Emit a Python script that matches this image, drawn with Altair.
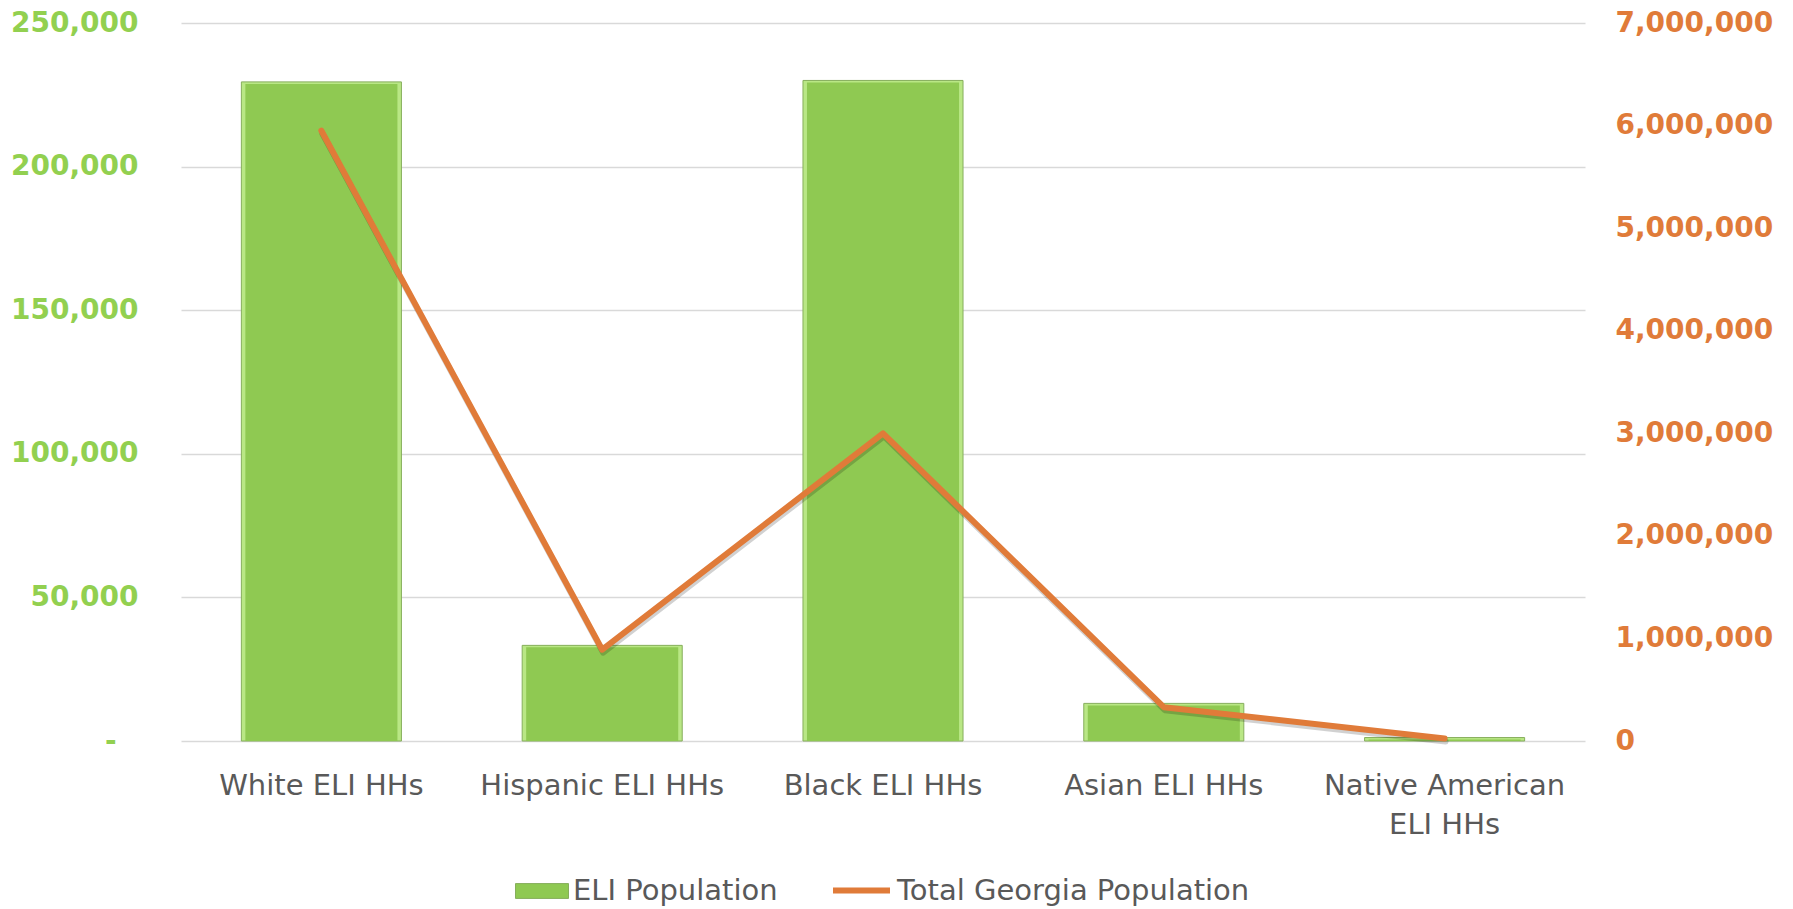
import altair as alt
import pandas as pd

# ELI households by race/ethnicity against total Georgia population
categories = ["White ELI HHs", "Hispanic ELI HHs", "Black ELI HHs",
              "Asian ELI HHs", "Native American ELI HHs"]
eli_population = [229500, 33300, 230000, 13100, 1200]
georgia_population = [5950000, 890000, 3000000, 330000, 25000]

left_ticks = [0, 50000, 100000, 150000, 200000, 250000]
right_ticks = [0, 1000000, 2000000, 3000000, 4000000, 5000000, 6000000, 7000000]

df = pd.DataFrame({
    "category": categories,
    "eli": eli_population,
    "pop": georgia_population,
    "bar_series": "ELI Population",
    "line_series": "Total Georgia Population",
})

GREEN = "#8FC952"
GREEN_EDGE = "#B9E785"
GREEN_TXT = "#92D050"
ORANGE = "#E07B39"
GRAY_TXT = "#595959"
FONT = "DejaVu Sans"
# accounting-style dash for zero, padded with a blank glyph that is not trimmed
ZERO_LABEL = "-\u2800"

x_enc = alt.X(
    "category:N",
    sort=categories,
    scale=alt.Scale(paddingInner=0.43, paddingOuter=0.215),
    axis=alt.Axis(
        title=None, labelAngle=0, domain=False, ticks=False, labelLimit=0,
        labelPadding=30, labelFontSize=29, labelFont=FONT, labelColor=GRAY_TXT,
        labelLineHeight=39, labelBaseline="top",
        labelExpr="datum.label == 'Native American ELI HHs' ? ['Native American', 'ELI HHs'] : datum.label",
    ),
)

y_left = alt.Scale(domain=[0, 250000], nice=False)
left_axis = alt.Axis(
    title=None, orient="left", values=left_ticks, domain=False, ticks=False,
    labelPadding=43, labelFontSize=28, labelFontWeight="bold", labelFont=FONT,
    labelColor=GREEN_TXT, gridColor="#D9D9D9", gridWidth=1.5,
    labelExpr="datum.value == 0 ? '" + ZERO_LABEL + "' : format(datum.value, ',')",
)

# light bevel rim drawn under the main bar body
bar_rim = alt.Chart(df).mark_bar(
    fill=GREEN_EDGE, stroke="#86AE5C", strokeWidth=1,
).encode(
    x=x_enc,
    y=alt.Y("eli:Q", scale=y_left, axis=left_axis),
)

bar_body = alt.Chart(df).mark_bar(
    width=alt.RelativeBandSize(0.95), yOffset=2,
).encode(
    x=x_enc,
    y=alt.Y("eli:Q", scale=y_left, axis=left_axis),
    y2=alt.datum(0),
    fill=alt.Fill(
        "bar_series:N",
        scale=alt.Scale(domain=["ELI Population"], range=[GREEN]),
        legend=alt.Legend(
            title=None, orient="none", legendX=334, legendY=841, padding=0,
            symbolType="M-1,-0.28H1V0.28H-1Z", symbolSize=2809,
            symbolStrokeColor="#86AE5C", symbolStrokeWidth=1, labelLimit=0,
            labelFontSize=29, labelFont=FONT, labelColor=GRAY_TXT, labelOffset=4,
        ),
    ),
)

y_right = alt.Scale(domain=[0, 7000000], nice=False)
right_axis = alt.Axis(
    title=None, orient="right", values=right_ticks, domain=False, ticks=False,
    grid=False, labelPadding=30, labelFontSize=28, labelFontWeight="bold",
    labelFont=FONT, labelColor=ORANGE,
    labelExpr="format(datum.value, ',')",
)

shadow = alt.Chart(df).mark_line(
    color="black", opacity=0.18, strokeWidth=6, xOffset=1, yOffset=3,
    strokeCap="round", strokeJoin="round",
).encode(
    x=alt.X("category:N", sort=categories),
    y=alt.Y("pop:Q", scale=y_right, axis=right_axis),
)

line = alt.Chart(df).mark_line(
    strokeWidth=6, strokeCap="round", strokeJoin="round",
).encode(
    x=alt.X("category:N", sort=categories),
    y=alt.Y("pop:Q", scale=y_right, axis=right_axis),
    stroke=alt.Stroke(
        "line_series:N",
        scale=alt.Scale(domain=["Total Georgia Population"], range=[ORANGE]),
        legend=alt.Legend(
            title=None, orient="none", legendX=649, legendY=836, padding=0,
            symbolType="stroke", symbolSize=3249, symbolStrokeWidth=6, labelLimit=0,
            labelFontSize=29, labelFont=FONT, labelColor=GRAY_TXT, labelOffset=4,
        ),
    ),
)

chart = alt.layer(
    alt.layer(bar_rim, bar_body), alt.layer(shadow, line)
).resolve_scale(
    y="independent"
).properties(
    width=1404,
    height=718,
    autosize=alt.AutoSizeParams(type="none"),
    padding={"left": 181, "top": 23, "right": 208, "bottom": 168},
    background="white",
).configure_view(stroke=None)

chart.save("out.html", embed_options={"renderer": "svg", "actions": False})
